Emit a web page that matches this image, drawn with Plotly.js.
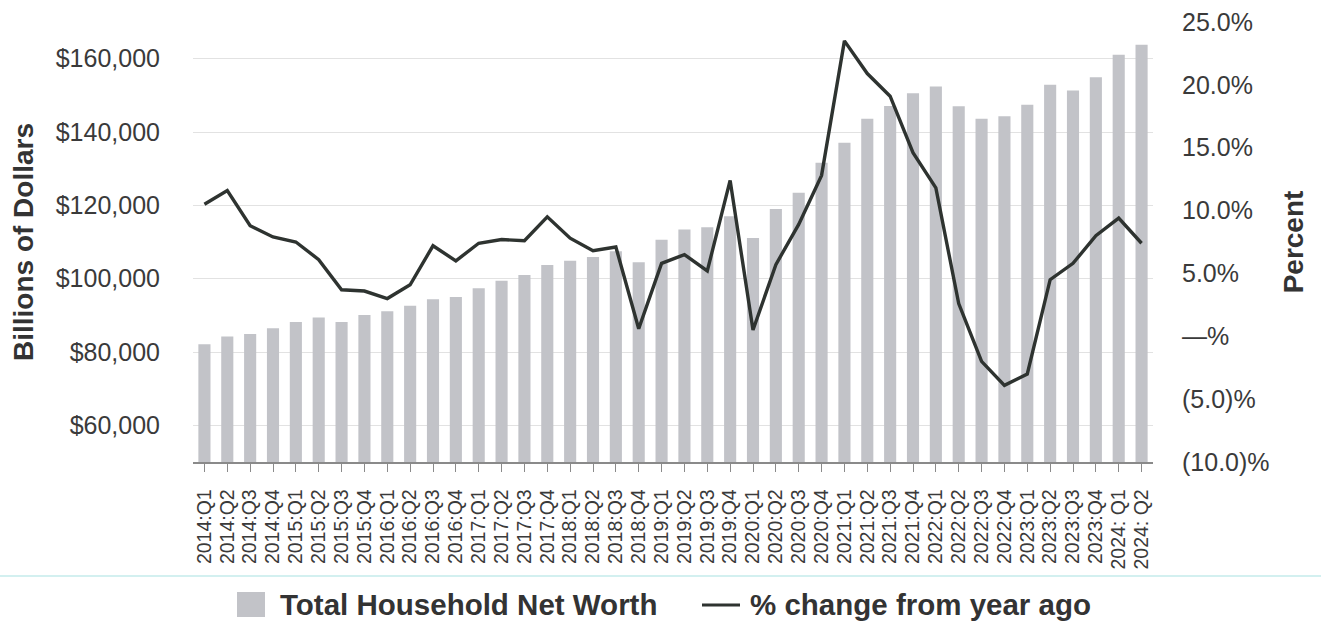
<!DOCTYPE html>
<html><head><meta charset="utf-8">
<script src="https://cdn.plot.ly/plotly-3.0.1.min.js"></script>
<style>html,body{margin:0;padding:0;background:#fff}#chart{width:1321px;height:625px}</style>
</head><body><div id="chart"></div>
<script>
const quarters = ["2014:Q1","2014:Q2","2014:Q3","2014:Q4","2015:Q1","2015:Q2","2015:Q3","2015:Q4",
  "2016:Q1","2016:Q2","2016:Q3","2016:Q4","2017:Q1","2017:Q2","2017:Q3","2017:Q4",
  "2018:Q1","2018:Q2","2018:Q3","2018:Q4","2019:Q1","2019:Q2","2019:Q3","2019:Q4",
  "2020:Q1","2020:Q2","2020:Q3","2020:Q4","2021:Q1","2021:Q2","2021:Q3","2021:Q4",
  "2022:Q1","2022:Q2","2022:Q3","2022:Q4","2023:Q1","2023:Q2","2023:Q3","2023:Q4",
  "2024: Q1","2024: Q2"];
const netWorth = [82100,84200,84900,86500,88200,89400,88200,90100,
  91100,92600,94400,95000,97400,99400,101000,103700,
  104900,105900,107500,104500,110600,113400,114000,117000,
  111100,119000,123400,131600,137100,143600,147100,150600,
  152400,147000,143600,144300,147400,152900,151300,154900,
  161100,163800];
const pctChange = [10.5,11.6,8.8,7.9,7.5,6.1,3.7,3.6,
  3.0,4.1,7.2,6.0,7.4,7.7,7.6,9.5,
  7.8,6.8,7.1,0.6,5.8,6.5,5.2,12.4,
  0.5,5.7,8.9,12.8,23.5,20.9,19.1,14.6,
  11.8,2.6,-2.0,-3.9,-3.0,4.5,5.8,8.0,
  9.4,7.4];
const leftTickVals = [60000,80000,100000,120000,140000,160000];
const leftTickText = ["$60,000","$80,000","$100,000","$120,000","$140,000","$160,000"];
const rightTickVals = [-10,-5,0,5,10,15,20,25];
const rightTickText = ["(10.0)%","(5.0)%","\u2014%","5.0%","10.0%","15.0%","20.0%","25.0%"];
const seriesNames = ["Total Household Net Worth","% change from year ago"];

const FONT = '"Liberation Sans", Arial, sans-serif';
const BAR_COLOR = '#c2c3c8';
const LINE_COLOR = '#2e3330';

const traces = [
  {type:'bar', x:quarters, y:netWorth, name:seriesNames[0],
   marker:{color:BAR_COLOR}, width:0.53, yaxis:'y'},
  {type:'scatter', mode:'lines', x:quarters, y:pctChange, name:seriesNames[1],
   line:{color:LINE_COLOR, width:3.4}, yaxis:'y2'}
];

// plot area: x 193..1153, y 22..462
const px = v => (v-193)/960;
const py = v => (462-v)/440;

const layout = {
  width:1321, height:625,
  margin:{l:193, r:168, t:22, b:163},
  paper_bgcolor:'#ffffff', plot_bgcolor:'#ffffff',
  font:{family:FONT, color:'#3a3a3a'},
  showlegend:false,
  xaxis:{type:'category', tickangle:-90, tickfont:{size:19.5, color:'#3a3a3a'},
    tickmode:'array', tickvals:quarters, ticktext:quarters, automargin:false,
    showline:true, linecolor:'#8a8a8a', linewidth:1.5, ticks:'outside', ticklen:8,
    tickcolor:'#8a8a8a', showgrid:false, ticklabelstandoff:10, range:[-0.5,41.5]},
  yaxis:{range:[50000,170000], tickvals:leftTickVals, ticktext:leftTickText, automargin:false,
    tickfont:{size:25, color:'#3a3a3a'}, showgrid:true, gridcolor:'#e2e2e2', gridwidth:1,
    zeroline:false, showline:false, ticks:'', ticklabelstandoff:32,
    title:{text:'Billions of Dollars', font:{size:28, weight:'bold', color:'#333333'}, standoff:13}},
  yaxis2:{overlaying:'y', side:'right', range:[-10,25], tickvals:rightTickVals, ticktext:rightTickText,
    automargin:false,
    tickfont:{size:25, color:'#3a3a3a'}, showgrid:false, zeroline:false, showline:false, ticks:'',
    ticklabelstandoff:28,
    title:{text:'Percent', font:{size:28, weight:'bold', color:'#333333'}, standoff:14}},
  shapes:[
    {type:'line', xref:'paper', yref:'paper', x0:-0.21, x1:1.18, y0:py(576), y1:py(576),
      line:{color:'#d3f0f0', width:2}},
    {type:'rect', xref:'paper', yref:'paper', x0:px(237), x1:px(265), y0:py(617), y1:py(592),
      fillcolor:BAR_COLOR, line:{width:0}},
    {type:'line', xref:'paper', yref:'paper', x0:px(702), x1:px(740), y0:py(605), y1:py(605),
      line:{color:LINE_COLOR, width:3}}
  ],
  annotations:[
    {xref:'paper', yref:'paper', x:px(278), y:py(604), xanchor:'left', yanchor:'middle',
      text:seriesNames[0], showarrow:false, font:{size:29.5, weight:'bold', color:'#333333'}},
    {xref:'paper', yref:'paper', x:px(748), y:py(604), xanchor:'left', yanchor:'middle',
      text:seriesNames[1], showarrow:false, font:{size:29.5, weight:'bold', color:'#333333'}}
  ]
};

Plotly.newPlot('chart', traces, layout, {displayModeBar:false, staticPlot:true});
</script></body></html>
